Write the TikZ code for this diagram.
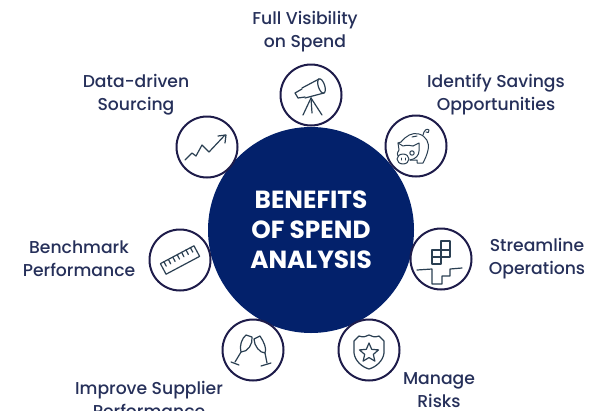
\documentclass[tikz,border=0pt]{standalone}
\usepackage{fontspec}
\setmainfont{Poppins}[UprightFont=* Medium,BoldFont=* Bold]
\usetikzlibrary{shapes.geometric}
\definecolor{navy}{HTML}{03216B}
\definecolor{ringcol}{HTML}{1E1C4A}
\definecolor{inkcol}{HTML}{26305A}
\definecolor{iconcol}{HTML}{2A3F52}
\tikzset{
    hub/.style={circle,fill=navy,minimum size=206pt,inner sep=0pt,align=center,text=white,font=\fontsize{24.8}{30}\selectfont\bfseries},
    ring/.style={circle,draw=ringcol,line width=2pt,fill=white,minimum size=61pt,inner sep=0pt},
    caption/.style={text=inkcol,align=center,inner sep=0pt,font=\fontsize{17.2}{23}\selectfont},
    icon/.style={draw=iconcol,line width=1.2pt,line join=round,line cap=round}
}
\begin{document}
\begin{tikzpicture}[x=1pt,y=-1pt]
    \useasboundingbox (0,0) rectangle (615,410);
    \clip (0,0) rectangle (615,410);
    \fill[white] (0,0) rectangle (615,410);

    \node[hub] (hub) at (311,230) {BENEFITS\\OF SPEND\\ANALYSIS};

    \node[ring] (scope) at (311,95) {};
    \node[ring] (piggy) at (416,146) {};
    \node[ring] (chart) at (207,147) {};
    \node[ring] (ruler) at (180,260) {};
    \node[ring] (stairs) at (441,259) {};
    \node[ring] (glass) at (253,350) {};
    \node[ring] (badge) at (369,350) {};

    \node[caption] (visibility) at (305,31.5) {Full Visibility\\on Spend};
    \node[caption] (sourcing) at (136,94.5) {Data-driven\\Sourcing};
    \node[caption] (savings) at (496,94.5) {Identify Savings\\Opportunities};
    \node[caption] (benchmark) at (79,258.5) {Benchmark\\Performance};
    \node[caption] (streamline) at (537,258.5) {Streamline\\Operations};
    \node[caption] (supplier) at (149,399.5) {Improve Supplier\\Performance};
    \node[caption] (risks) at (439,390.5) {Manage\\Risks};

    % telescope
    \begin{scope}[shift={(scope.center)},icon]
        \draw (-9,-7) -- (8,-16);
        \draw (-6,3) -- (13,-2);
        \draw[rotate around={18:(10.5,-9)}] (10.5,-9) ellipse (3.2 and 7.5);
        \draw (-9,-6) -- (-16,-2) -- (-13,3) -- (-6,2);
        \draw (0,3) -- (-8,20);
        \draw (0,3) -- (1,18);
        \draw (0,3) -- (11,20);
    \end{scope}

    % piggy bank
    \begin{scope}[shift={(piggy.center)},icon,line width=1pt]
        \draw (-15,-4) .. controls (-10,-10) and (-4,-14) .. (3,-12)
            .. controls (10,-10) and (14,-3) .. (12,4)
            .. controls (11,9) and (9,13) .. (7,17) -- (1,17) -- (1,14) -- (-6,14);
        \draw (-15,-4) -- (-18,-3) -- (-17,4) .. controls (-19,7) and (-19,9) .. (-18,10);
        \draw (-18,-3) -- (-13,0) .. controls (-9,-1) and (-6,-1) .. (-3,0);
        \draw (-3,0) -- (3,-3) -- (3,5) .. controls (3,9) and (0,13) .. (-6,14);
        \draw (-13,13) ellipse (6 and 5);
        \draw (-15,12) -- (-15,14);
        \draw (-11,12) -- (-11,14);
        \draw (-4,7) circle (2.2);
        \draw (-4,-9) -- (1,-10);
        \draw (7,-11) .. controls (8,-16) and (11,-18) .. (13,-16)
            .. controls (14,-14) and (11,-12) .. (10,-14);
    \end{scope}

    % rising chart
    \begin{scope}[shift={(chart.center)},icon]
        \draw (-22,13) -- (-15,6) -- (-11,9) -- (-5,-2) -- (2,5) -- (18,-12);
        \draw (11,-11) -- (19,-12) -- (18,-4);
    \end{scope}

    % ruler
    \begin{scope}[shift={(ruler.center)},icon]
        \begin{scope}[rotate=28]
            \draw (-19,-6) rectangle (19,6);
            \foreach \i in {-15,-10,-5,0,5,10,15} {
                \draw (\i,-6) -- (\i,-1);
            }
        \end{scope}
    \end{scope}

    % stairs and blocks
    \begin{scope}[shift={(stairs.center)},icon]
        \draw (0,-18) rectangle (9,-9);
        \draw (0,-9) rectangle (9,-2);
        \draw (-9,-9) rectangle (0,-2);
        \draw (-9,-2) rectangle (0,5);
        \draw (-24,11) -- (-9,10) -- (-9,25) -- (1,25) -- (1,17) -- (9,17) -- (9,10) -- (21,9);
    \end{scope}

    % champagne glasses
    \begin{scope}[shift={(glass.center)},icon]
        \draw (-7,-15) -- (-1,-13) .. controls (0,-6) and (-5,2) .. (-12,2)
            .. controls (-14,-4) and (-11,-12) .. (-7,-15);
        \draw (-12,2) -- (-18,12);
        \draw (-22,12) -- (-14,15);
        \draw (1,-11) -- (7,-14) .. controls (11,-8) and (14,-1) .. (12,3)
            .. controls (7,3) and (1,-4) .. (1,-11);
        \draw (12,3) -- (14,13);
        \draw (8,16) -- (18,13);
    \end{scope}

    % shield
    \begin{scope}[shift={(badge.center)},icon]
        \draw (-15,-9) .. controls (-12,-11) and (-12,-13) .. (-10,-14)
            .. controls (-5,-12) and (-3,-14) .. (0,-15)
            .. controls (3,-14) and (5,-12) .. (10,-14)
            .. controls (12,-13) and (12,-11) .. (15,-9)
            -- (15,3) .. controls (14,11) and (7,17) .. (0,19)
            .. controls (-7,17) and (-14,11) .. (-15,3) -- cycle;
        \node[star,star points=5,star point ratio=2.2,draw=iconcol,line width=1.2pt,minimum size=20pt,inner sep=0pt] (starmark) at (0,3) {};
    \end{scope}
\end{tikzpicture}
\end{document}
